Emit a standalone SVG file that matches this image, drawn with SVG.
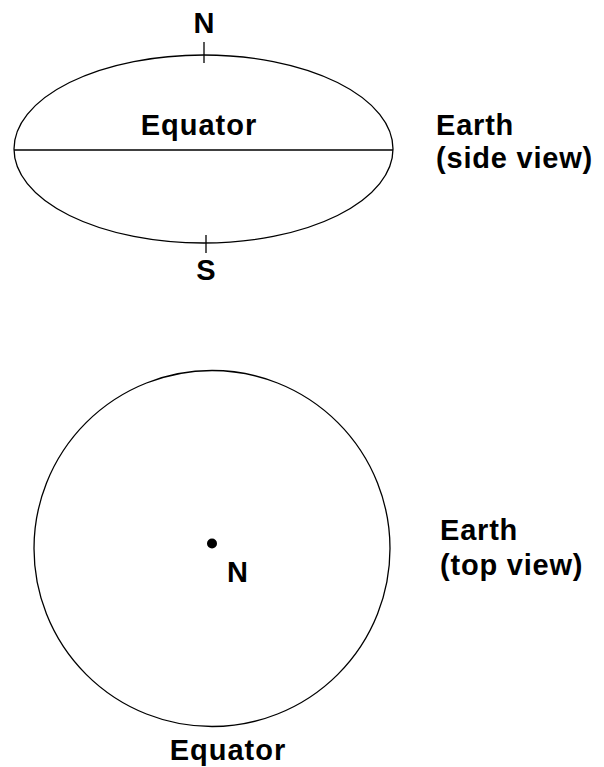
<svg xmlns="http://www.w3.org/2000/svg" width="604" height="767" viewBox="0 0 604 767">
<style>
.ln{fill:none;stroke:#000;stroke-width:1.3}
.t{font-family:"Liberation Sans",Arial,sans-serif;font-weight:bold;font-size:29px;fill:#000}
.c{text-anchor:middle}
</style>
<rect width="604" height="767" fill="#fff"/>
<g id="side-view">
<ellipse class="ln" cx="203.5" cy="149" rx="189.5" ry="94"/>
<line class="ln" x1="14" y1="150" x2="393" y2="150"/>
<line class="ln" x1="204" y1="42" x2="204" y2="63"/>
<line class="ln" x1="206" y1="235" x2="206" y2="253"/>
<text class="t c" x="204" y="33">N</text>
<text class="t c" x="206" y="280">S</text>
<text class="t c" x="199" y="135" letter-spacing="1">Equator</text>
</g>
<g id="side-label">
<text class="t" x="436" y="135" letter-spacing="0.8">Earth</text>
<text class="t" x="436" y="168" letter-spacing="0.8">(side view)</text>
</g>
<g id="top-view">
<circle class="ln" cx="212" cy="548.5" r="178"/>
<circle cx="212" cy="543.5" r="5" fill="#000"/>
<text class="t c" x="237.5" y="582">N</text>
<text class="t c" x="228" y="760" letter-spacing="1">Equator</text>
</g>
<g id="top-label">
<text class="t" x="440" y="540" letter-spacing="0.8">Earth</text>
<text class="t" x="440" y="575" letter-spacing="0.8">(top view)</text>
</g>
<g id="connectors"></g>
</svg>
